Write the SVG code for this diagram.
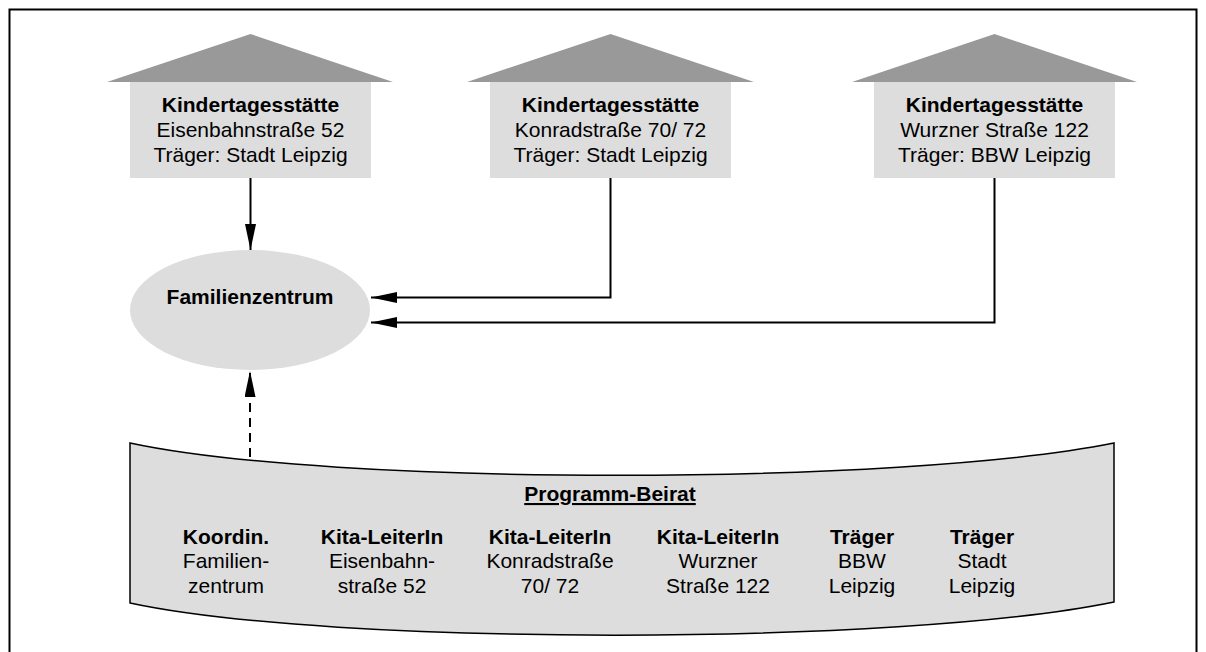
<svg xmlns="http://www.w3.org/2000/svg" width="1206" height="652" viewBox="0 0 1206 652">
<style>
text{font-family:"Liberation Sans",Arial,sans-serif;font-size:21px;fill:#000;text-anchor:middle}
.b{font-weight:bold}
.roof{fill:#999999}
.body{fill:#dddddd}
.conn{fill:none;stroke:#000;stroke-width:2}
</style>
<defs>
<marker id="ah" markerUnits="userSpaceOnUse" markerWidth="27" markerHeight="12" refX="26" refY="5.5" orient="auto">
<path d="M0,0 L26,5.5 L0,11 z" fill="#000"/>
</marker>
</defs>
<rect x="9.5" y="9.5" width="1187" height="700" fill="#fff" stroke="#000" stroke-width="2"/>
<g id="kita1">
<polygon class="roof" points="107,82 250.5,34 393,82"/>
<rect class="body" x="130" y="82" width="241" height="96"/>
<text x="250.5" y="112" class="b">Kindertagesstätte</text>
<text x="250.5" y="137">Eisenbahnstraße 52</text>
<text x="250.5" y="162">Träger: Stadt Leipzig</text>
</g>
<g id="kita2">
<polygon class="roof" points="467,82 610.5,34 754,82"/>
<rect class="body" x="490" y="82" width="241" height="96"/>
<text x="610.5" y="112" class="b">Kindertagesstätte</text>
<text x="610.5" y="137">Konradstraße 70/ 72</text>
<text x="610.5" y="162">Träger: Stadt Leipzig</text>
</g>
<g id="kita3">
<polygon class="roof" points="852,82 994.5,34 1137,82"/>
<rect class="body" x="874" y="82" width="241" height="96"/>
<text x="994.5" y="112" class="b">Kindertagesstätte</text>
<text x="994.5" y="137">Wurzner Straße 122</text>
<text x="994.5" y="162">Träger: BBW Leipzig</text>
</g>
<g id="familienzentrum">
<ellipse cx="250" cy="310" rx="120" ry="60" fill="#dddddd"/>
<text x="250" y="304" class="b">Familienzentrum</text>
</g>
<g id="beirat">
<path d="M130,443 C330,486 900,486 1114,443 L1114,602 C900,646 330,646 130,603 Z" fill="#dddddd" stroke="#000" stroke-width="1.5"/>
<text x="610" y="501" class="b" text-decoration="underline">Programm-Beirat</text>
<text x="226" y="544" class="b">Koordin.</text>
<text x="226" y="568">Familien-</text>
<text x="226" y="593">zentrum</text>
<text x="382" y="544" class="b">Kita-LeiterIn</text>
<text x="382" y="568">Eisenbahn-</text>
<text x="382" y="593">straße 52</text>
<text x="550" y="544" class="b">Kita-LeiterIn</text>
<text x="550" y="568">Konradstraße</text>
<text x="550" y="593">70/ 72</text>
<text x="718" y="544" class="b">Kita-LeiterIn</text>
<text x="718" y="568">Wurzner</text>
<text x="718" y="593">Straße 122</text>
<text x="862" y="544" class="b">Träger</text>
<text x="862" y="568">BBW</text>
<text x="862" y="593">Leipzig</text>
<text x="982" y="544" class="b">Träger</text>
<text x="982" y="568">Stadt</text>
<text x="982" y="593">Leipzig</text>
</g>
<g id="connectors">
<path class="conn" d="M250.5,178 V250" marker-end="url(#ah)"/>
<path class="conn" d="M610.5,178 V297.5 H371" marker-end="url(#ah)"/>
<path class="conn" d="M994.5,178 V322.5 H371" marker-end="url(#ah)"/>
<path class="conn" d="M250,457 V371" stroke-dasharray="9,6" marker-end="url(#ah)"/>
</g>
</svg>
